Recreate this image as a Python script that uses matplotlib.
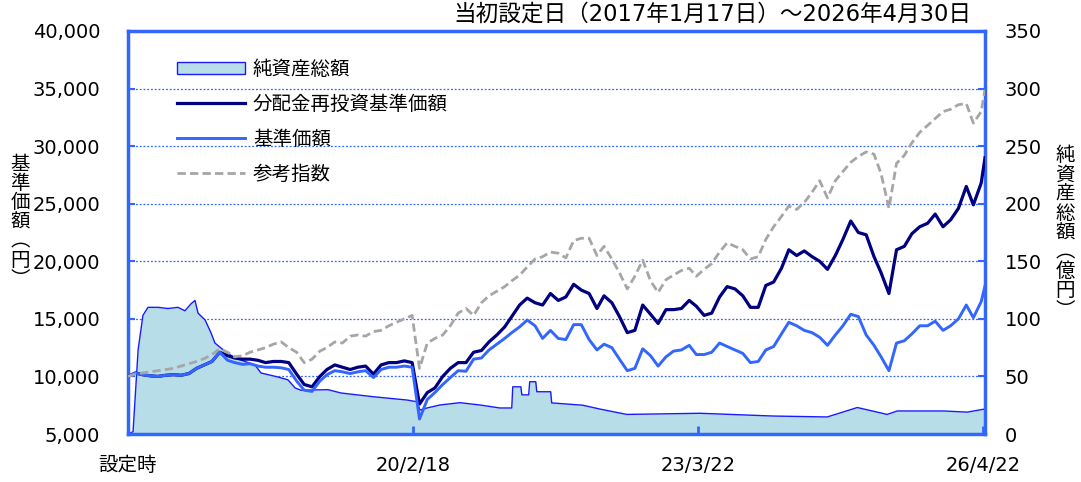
import matplotlib
matplotlib.use("Agg")
import matplotlib.pyplot as plt
import pandas as pd
from matplotlib.patches import Patch
from matplotlib.lines import Line2D
from matplotlib.ticker import FuncFormatter

plt.rcParams['font.family'] = ['DejaVu Sans', 'Noto Sans CJK JP']

# ---------------- data ----------------
# sample dates: launch date, then mid-month, then final date
month_list = [f"{y}-{m:02d}-15" for y in range(2017, 2027) for m in range(1, 13)]
dates = pd.to_datetime(["2017-01-17"] + month_list[1:112] + ["2026-04-30"])

# 基準価額 (円)
base_nav = [
    10000, 10300, 10150, 10050, 10000, 10100, 10150, 10100, 10250, 10700, 11000, 11300,  # 2017
    12100, 11400, 11200, 11050, 11100, 10900, 10800, 10800, 10750, 10600, 9600, 8800,     # 2018
    8700, 9600, 10150, 10500, 10400, 10250, 10400, 10500, 9900, 10600, 10800, 10800,      # 2019
    10900, 10800, 6300, 8000, 8600, 9300, 9900, 10500, 10450, 11500, 11600, 12300,        # 2020
    12800, 13300, 13800, 14300, 14900, 14400, 13300, 14000, 13300, 13200, 14500, 14500,   # 2021
    13200, 12300, 12800, 12500, 11500, 10500, 10700, 12400, 11800, 10900, 11700, 12200,   # 2022
    12300, 12700, 11900, 11900, 12100, 12900, 12600, 12300, 12000, 11200, 11300, 12300,   # 2023
    12600, 13700, 14700, 14400, 14000, 13800, 13400, 12700, 13600, 14400, 15400, 15200,   # 2024
    13600, 12700, 11700, 10500, 12900, 13100, 13700, 14400, 14400, 14800, 14000, 14400,   # 2025
    15000, 16200, 15100, 16500, 17860,                                                    # 2026
]

# 分配金再投資基準価額 (円)
reinvest_nav = [
    10000, 10300, 10150, 10050, 10000, 10100, 10150, 10100, 10250, 10700, 11000, 11300,  # 2017
    12100, 11800, 11600, 11500, 11500, 11400, 11200, 11300, 11300, 11200, 10200, 9300,    # 2018
    9100, 10000, 10600, 11000, 10800, 10600, 10800, 10900, 10200, 11000, 11200, 11200,    # 2019
    11350, 11200, 7600, 8600, 9000, 10000, 10700, 11200, 11200, 12100, 12250, 13000,      # 2020
    13600, 14300, 15200, 16200, 16800, 16400, 16200, 17200, 16600, 16900, 18000, 17500,   # 2021
    17200, 15900, 17000, 16400, 15200, 13800, 14000, 16200, 15400, 14600, 15800, 15800,   # 2022
    15900, 16600, 16100, 15300, 15500, 16900, 17800, 17600, 17000, 16000, 16000, 17900,   # 2023
    18200, 19400, 21000, 20500, 20900, 20400, 20000, 19300, 20500, 21900, 23500, 22500,   # 2024
    22300, 20400, 19000, 17200, 21000, 21300, 22400, 23000, 23300, 24100, 23000, 23600,   # 2025
    24600, 26500, 24900, 26800, 28990,                                                    # 2026
]

# 参考指数
benchmark = [
    10000, 10200, 10300, 10400, 10500, 10600, 10700, 10900, 11100, 11300, 11550, 11900,  # 2017
    12400, 12100, 11700, 11800, 12100, 12300, 12500, 12800, 13000, 12500, 12100, 11200,   # 2018
    11500, 12200, 12500, 13000, 12900, 13500, 13600, 13500, 13900, 14000, 14400, 14700,   # 2019
    15000, 15300, 10700, 12900, 13300, 13600, 14400, 15500, 15900, 15300, 16400, 17000,   # 2020
    17400, 17800, 18300, 18800, 19500, 20200, 20400, 20800, 20700, 20300, 21800, 22000,   # 2021
    22000, 20500, 21300, 20200, 19000, 17600, 18700, 20100, 18300, 17300, 18400, 18800,   # 2022
    19200, 19400, 18700, 19300, 19800, 20800, 21600, 21300, 21000, 20200, 20400, 21900,   # 2023
    23000, 23900, 24800, 24500, 25100, 26000, 27000, 25500, 27000, 27800, 28600, 29100,   # 2024
    29500, 29300, 27600, 24600, 28500, 29200, 30300, 31200, 31800, 32400, 33000, 33200,   # 2025
    33600, 33700, 32000, 33000, 34900,                                                    # 2026
]

# 純資産総額 (億円)
nav_dates = pd.to_datetime([
    "2017-01-17", "2017-02-06", "2017-02-26", "2017-03-17", "2017-04-06", "2017-05-16",
    "2017-06-24", "2017-08-03", "2017-08-30", "2017-09-23", "2017-10-09", "2017-10-21",
    "2017-11-18", "2017-12-11", "2017-12-27", "2018-01-20", "2018-02-17", "2018-03-16",
    "2018-06-03", "2018-06-27", "2018-09-02", "2018-10-12", "2018-11-09", "2018-12-02",
    "2019-03-19", "2019-05-10", "2019-09-13", "2020-01-26", "2020-03-05", "2020-03-17",
    "2020-04-14", "2020-06-04", "2020-08-22", "2020-11-09", "2021-01-27", "2021-03-15",
    "2021-03-19", "2021-04-20", "2021-04-24", "2021-05-21", "2021-05-25", "2021-06-18",
    "2021-06-22", "2021-08-16", "2021-08-20", "2021-12-21", "2022-02-26", "2022-06-13",
    "2023-03-30", "2024-01-13", "2024-08-14", "2024-12-11", "2025-04-08", "2025-05-18",
    "2025-11-16", "2026-02-19", "2026-04-11", "2026-04-30",
])
nav_values = [
    0, 2, 73, 103, 110, 110,
    109, 110, 107, 113, 116, 105,
    99, 88, 79, 74.6, 70, 66,
    60, 53, 49.5, 47, 40, 38,
    38.5, 35.6, 32.4, 29.5, 28, 20.8,
    22.6, 25.2, 27.2, 25.2, 22.6, 22.6,
    41, 41, 34, 34, 45.4, 45.4,
    36.7, 36.7, 27, 25, 21.7, 17,
    18, 15.6, 14.8, 23, 17, 20,
    20, 19, 21, 21.7,
]

left_ticks = [5000, 10000, 15000, 20000, 25000, 30000, 35000, 40000]
right_ticks = [0, 50, 100, 150, 200, 250, 300, 350]
x_tick_dates = pd.to_datetime(["2017-01-17", "2020-02-18", "2023-03-22", "2026-04-22"])
x_tick_labels = ["設定時", "20/2/18", "23/3/22", "26/4/22"]

title = "当初設定日（2017年1月17日）～2026年4月30日"
legend_labels = ["純資産総額", "分配金再投資基準価額", "基準価額", "参考指数"]

# ---------------- style ----------------
AX = "#3366FF"
C_NAVY = "#000080"
C_BASE = "#3366FF"
C_GRAY = "#A6A6A6"
C_FILL = "#B7DDE8"
C_FILL_EDGE = "#1A1AFF"
FS = 14

W, H = 1081, 482
fig = plt.figure(figsize=(W / 100, H / 100), dpi=100)
l, r, t, b = 128, 985, 31, 434
ax = fig.add_axes([l / W, 1 - b / H, (r - l) / W, (b - t) / H])
ax2 = ax.twinx()
ax.set_zorder(2)
ax2.set_zorder(1)
ax.patch.set_visible(False)
ax2.patch.set_facecolor("white")

# NAV area (right axis)
ax2.set_axisbelow(True)
ax2.fill_between(nav_dates, 0, nav_values, color=C_FILL, lw=0, zorder=1)
ax2.plot(nav_dates, nav_values, color=C_FILL_EDGE, lw=1.0, zorder=2)
ax2.set_ylim(0, 350)
ax2.set_yticks(right_ticks)
ax2.grid(axis="y", color=AX, linestyle=(0, (1.5, 1.5)), lw=0.9)
ax2.tick_params(axis="y", direction="in", length=5, width=1.5, color=AX,
                labelsize=FS, pad=14)

# price lines (left axis)
ax.plot(dates, reinvest_nav, color=C_NAVY, lw=2.3, zorder=3)
ax.plot(dates, base_nav, color=C_BASE, lw=2.1, zorder=4)
ax.plot(dates, benchmark, color=C_GRAY, lw=2.0, linestyle=(0, (3, 1.5)), zorder=5)
ax.set_ylim(5000, 40000)
ax.set_yticks(left_ticks)
ax.yaxis.set_major_formatter(FuncFormatter(lambda v, p: f"{int(v):,}"))
ax.tick_params(axis="y", direction="in", length=5, width=1.5, color=AX,
               labelsize=FS, pad=20)

ax.set_xlim(pd.Timestamp("2017-01-17"), pd.Timestamp("2026-04-30"))
ax.set_xticks(x_tick_dates)
ax.set_xticklabels(x_tick_labels)
ax.tick_params(axis="x", direction="in", length=6, width=2, color=AX,
               labelsize=FS, pad=16)
ax2.tick_params(axis="x", length=0)

for a in (ax, ax2):
    for s in a.spines.values():
        s.set_color(AX)
        s.set_linewidth(2.5)
for s in ax.spines.values():
    s.set_visible(False)

handles = [
    Patch(facecolor=C_FILL, edgecolor=C_FILL_EDGE, lw=1.0),
    Line2D([], [], color=C_NAVY, lw=2.3),
    Line2D([], [], color=C_BASE, lw=2.1),
    Line2D([], [], color=C_GRAY, lw=2.0, linestyle=(0, (3, 1.5))),
]
ax.legend(handles, legend_labels, loc="upper left",
          bbox_to_anchor=((177 - 128) / (r - l), 1 - (60 - 31) / (b - t)),
          frameon=False, fontsize=FS, handlelength=3.5, handleheight=0.6,
          handletextpad=0.4, labelspacing=0.82, borderpad=0, borderaxespad=0)

fig.text(712 / W, 1 - 14 / H, title, ha="center", va="center", fontsize=16.3)
fig.text(20 / W, 1 - 222 / H, "基\n準\n価\n額\n︵\n円\n︶", ha="center", va="center",
         fontsize=FS, linespacing=1.02)
fig.text(1065 / W, 1 - 233 / H, "純\n資\n産\n総\n額\n︵\n億\n円\n︶", ha="center", va="center",
         fontsize=FS, linespacing=1.02)

fig.savefig("out.png", dpi=100)
